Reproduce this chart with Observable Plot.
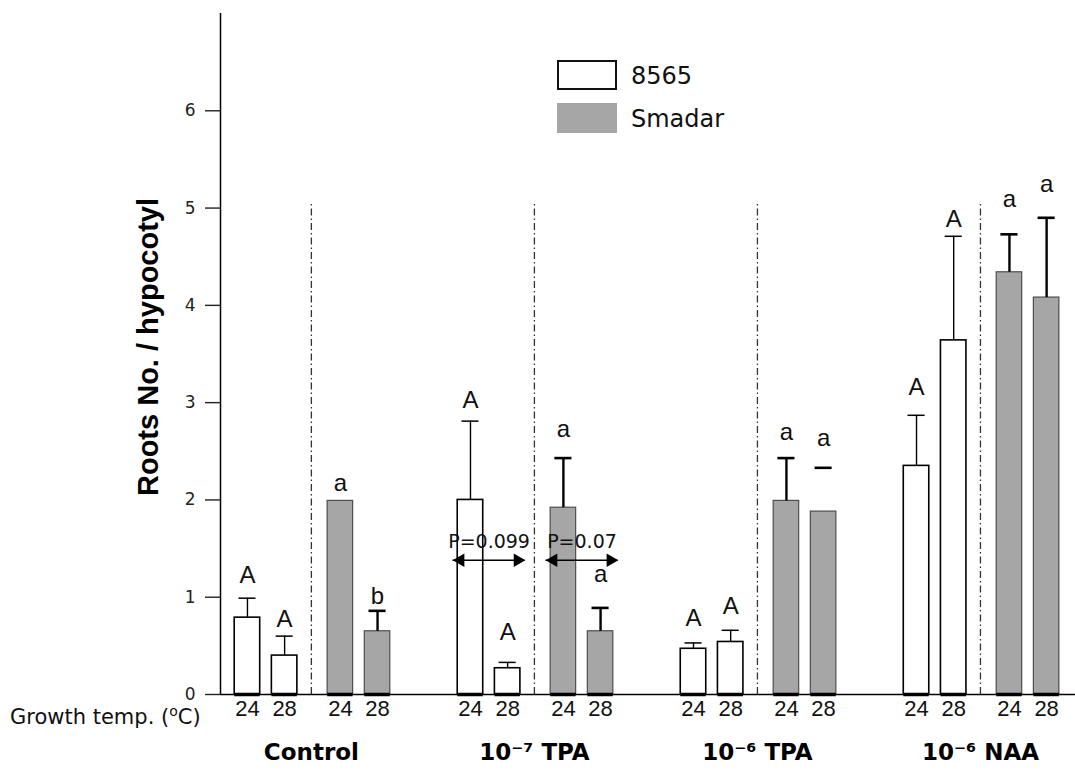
<!DOCTYPE html>
<html><head><meta charset="utf-8">
<script src="https://cdn.jsdelivr.net/npm/d3@7"></script>
<script src="https://cdn.jsdelivr.net/npm/@observablehq/plot@0.6"></script>
<style>
html,body{margin:0;padding:0;background:#fff;overflow:hidden}
#wrap{position:relative;width:1075px;height:774px}
.leg{position:absolute;font-family:"DejaVu Sans";font-size:24px;color:#111;line-height:1;white-space:nowrap}
.box{position:absolute;box-sizing:border-box}
#gt{position:absolute;left:10px;top:707px;font-family:"DejaVu Sans";font-size:21px;color:#111;line-height:1;white-space:nowrap}
#gt sup{font-size:14px;vertical-align:0;position:relative;top:-8px}
</style></head><body><div id="wrap"></div>
<script>
// ---- data ----
const groups = ["Control", "10\u207B\u2077 TPA", "10\u207B\u2076 TPA", "10\u207B\u2076 NAA"];
const strains = ["8565", "Smadar"];
const temps = [24, 28];
// order: Control-24, Control-28, TPA7-24, TPA7-28, TPA6-24, TPA6-28, NAA-24, NAA-28
const mean8565   = [0.79, 0.40, 2.00, 0.27, 0.47, 0.54, 2.35, 3.64];
const err8565    = [0.99, 0.60, 2.81, 0.33, 0.53, 0.66, 2.87, 4.71];
const meanSmadar = [1.99, 0.65, 1.92, 0.65, 1.99, 1.88, 4.34, 4.08];
const errSmadar  = [null, 0.86, 2.43, 0.89, 2.43, 2.33, 4.73, 4.90];
const stemSmadar = [false, true, true, true, true, false, true, true];
const letters8565   = ["A", "A", "A", "A", "A", "A", "A", "A"];
const lettersSmadar = ["a", "b", "a", "a", "a", "a", "a", "a"];
const letterAt8565   = [1.23, 0.77, 3.02, 0.64, 0.78, 0.91, 3.16, 4.88];
const letterAtSmadar = [2.17, 1.01, 2.73, 1.24, 2.69, 2.63, 5.09, 5.24];
const yTicks = [0, 1, 2, 3, 4, 5, 6];
const yLabel = "Roots No. / hypocotyl";
const xTitle = "Growth temp.";
// P-value annotations (group index, strain, text)
const pGroup = [1, 1];
const pStrain = ["8565", "Smadar"];
const pText = ["P=0.099", "P=0.07"];
const pArrowY = 1.38;
const pTextY = 1.57;
const dividerTop = 5.05;

// ---- layout helpers (unit = spacing between the two temperatures) ----
const GROUP_STEP = 6, STRAIN_OFF = [-1.72, 0.78], HALF_BAR = 0.343, HALF_CAP = 0.23;
const pos = (g, s, t) => GROUP_STEP * g + STRAIN_OFF[s] + t;

const bars = [];
groups.forEach((grp, g) => strains.forEach((st, s) => temps.forEach((tp, t) => {
  const i = g * 2 + t;
  bars.push({
    group: grp, strain: st, temp: tp, x: pos(g, s, t),
    value: s ? meanSmadar[i] : mean8565[i],
    err: s ? errSmadar[i] : err8565[i],
    stem: s ? stemSmadar[i] : true,
    letter: s ? lettersSmadar[i] : letters8565[i],
    letterAt: s ? letterAtSmadar[i] : letterAt8565[i]
  });
})));
const groupRows = groups.map((grp, g) => ({group: grp, x: GROUP_STEP * g}));
const pRows = pText.map((txt, k) => {
  const s = strains.indexOf(pStrain[k]);
  const c = (pos(pGroup[k], s, 0) + pos(pGroup[k], s, 1)) / 2;
  return {text: txt, c, x1: c - 0.97, x2: c + 0.97};
});
const xDomain = [-2.445, 20.557];
const eb = bars.filter(d => d.err != null);
const is8 = d => d.strain === "8565";

const chart = Plot.plot({
  width: 1075, height: 774,
  marginLeft: 220, marginRight: 0, marginTop: 13, marginBottom: 80,
  style: {fontFamily: "DejaVu Sans", color: "#111", background: "#fff"},
  x: {domain: xDomain, axis: null},
  y: {domain: [0, 7], axis: null},
  marks: [
    // dividers
    Plot.ruleX(groupRows, {x: "x", y1: 0, y2: dividerTop, stroke: "#333", strokeWidth: 1.3, strokeDasharray: "7,3,1.5,3"}),
    // bars
    Plot.rect(bars, {x1: d => d.x - HALF_BAR, x2: d => d.x + HALF_BAR, y1: 0, y2: "value",
      fill: d => is8(d) ? "#fff" : "#a6a6a6", stroke: d => is8(d) ? "#000" : "#4d4d4d",
      strokeWidth: d => is8(d) ? 1.6 : 1.2}),
    // error bars
    Plot.ruleX(eb.filter(d => d.stem), {x: "x", y1: "value", y2: "err", stroke: "#000",
      strokeWidth: d => is8(d) ? 1.4 : 2.4}),
    Plot.ruleY(eb, {x1: d => d.x - HALF_CAP, x2: d => d.x + HALF_CAP, y: "err", stroke: "#000",
      strokeWidth: d => is8(d) ? 1.5 : 2.6}),
    // axes lines
    Plot.ruleY([0], {x1: xDomain[0], x2: xDomain[1], stroke: "#000", strokeWidth: 1.5}),
    Plot.ruleY(bars, {x1: d => d.x - HALF_BAR, x2: d => d.x + HALF_BAR, y: 0, stroke: "#000", strokeWidth: 3.5}),
    Plot.ruleX([xDomain[0]], {y1: 0, y2: 7, stroke: "#000", strokeWidth: 1.5}),
    Plot.axisY({ticks: yTicks, tickFormat: "d", tickSize: 15, tickPadding: 10, fontSize: 17, fontFamily: "DejaVu Sans", label: null, color: "#222", strokeWidth: 1.4}),
    Plot.text([yLabel], {frameAnchor: "left", textAnchor: "middle", dx: -72, dy: -7, rotate: -90, fontSize: 29, fontWeight: "bold", fontFamily: "Liberation Sans", fill: "#000"}),
    // significance letters
    Plot.text(bars, {x: "x", y: "letterAt", text: "letter", fontSize: 24, fontFamily: "Liberation Sans", fill: "#111"}),
    // P annotations
    Plot.ruleY(pRows, {x1: "x1", x2: "x2", y: pArrowY, stroke: "#000", strokeWidth: 1.5}),
    Plot.dot(pRows, {x: "x1", y: pArrowY, symbol: "triangle", rotate: -90, r: 5, fill: "#000", stroke: null, dx: 7.5}),
    Plot.dot(pRows, {x: "x2", y: pArrowY, symbol: "triangle", rotate: 90, r: 5, fill: "#000", stroke: null, dx: -7.5}),
    Plot.text(pRows, {x: "c", y: pTextY, text: "text", fontSize: 19, fontFamily: "DejaVu Sans", fill: "#111"}),
    // temperature tick labels
    Plot.text(bars, {x: "x", text: d => String(d.temp), frameAnchor: "bottom", dy: 21, fontSize: 22, fontFamily: "Liberation Sans Narrow, Liberation Sans", fill: "#111"}),
    // group labels
    Plot.text(groupRows, {x: "x", text: "group", frameAnchor: "bottom", dy: 65, fontSize: 23, fontWeight: "bold", fontFamily: "DejaVu Sans", fill: "#000"})
  ]
});
const wrap = document.getElementById("wrap");
wrap.appendChild(chart);

// legend and x title (HTML)
const legend = [
  {label: strains[0], top: 60, fill: "#fff", border: "2px solid #111"},
  {label: strains[1], top: 103, fill: "#a6a6a6", border: "none"}
];
legend.forEach(l => {
  const b = document.createElement("div");
  b.className = "box";
  Object.assign(b.style, {left: "557px", top: l.top + "px", width: "60px", height: "30px", background: l.fill, border: l.border});
  wrap.appendChild(b);
  const t = document.createElement("div");
  t.className = "leg";
  t.textContent = l.label;
  Object.assign(t.style, {left: "631px", top: (l.top + 4) + "px"});
  wrap.appendChild(t);
});
const gt = document.createElement("div");
gt.id = "gt";
gt.innerHTML = xTitle + " (<sup>o</sup>C)";
wrap.appendChild(gt);
</script>
</body></html>
